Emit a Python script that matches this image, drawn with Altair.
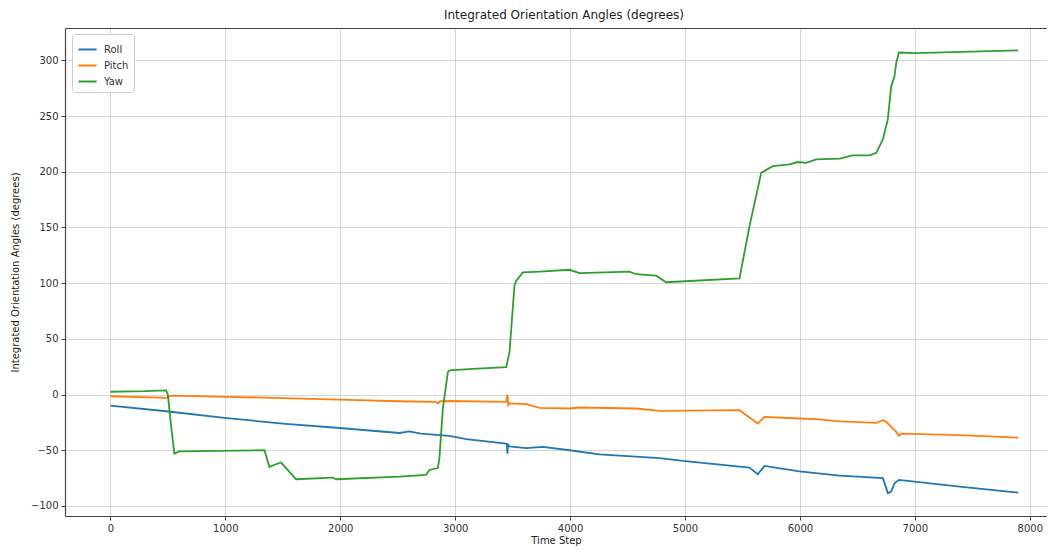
import altair as alt
import pandas as pd

roll_x = [0, 485, 992, 1500, 1993, 2515, 2602, 2700, 2950, 3095, 3444, 3450, 3455, 3460, 3473,
          3618, 3763, 3995, 4256, 4778, 4980, 5561, 5633, 5692, 5996, 6345, 6722, 6751, 6765,
          6794, 6823, 6861, 7389, 7900]
roll_y = [-10, -15, -21, -26, -30, -34.5, -33, -35, -37, -40, -44, -44.5, -53, -45, -46.5,
          -48, -47, -50, -53.7, -57, -59.6, -65.6, -71.5, -64, -69, -72.7, -75, -84, -88.5,
          -87, -79.6, -76.6, -82.6, -88]

pitch_x = [0, 485, 530, 1007, 1993, 2515, 2830, 2850, 2870, 2950, 3444, 3455, 3462, 3473,
           3618, 3734, 3995, 4082, 4575, 4778, 5474, 5633, 5692, 5996, 6141, 6345, 6664,
           6722, 6751, 6794, 6838, 6861, 6881, 7389, 7900]
pitch_y = [-1.5, -3, -1, -2, -4.5, -6, -6.5, -8, -6, -5.8, -6.5, 0, -9.5, -8,
           -8.6, -12, -12.5, -11.6, -12.5, -14.6, -14, -26, -20, -21.5, -22, -24, -25.4,
           -23, -24.5, -29, -33.5, -37, -35, -36.4, -38.7]

yaw_x = [0, 300, 485, 500, 530, 557, 600, 1340, 1355, 1384, 1427, 1485, 1529, 1616, 1934,
         1964, 2515, 2747, 2776, 2849, 2863, 2893, 2936, 2950, 3153, 3444, 3473, 3516, 3531,
         3589, 3734, 3995, 4082, 4517, 4575, 4749, 4836, 5474, 5561, 5663, 5764, 5910, 5982,
         6054, 6141, 6345, 6460, 6606, 6664, 6722, 6765, 6794, 6823, 6838, 6861, 7011, 7900]
yaw_y = [2.5, 3, 3.8, 0, -30, -53, -51, -50, -55, -65, -63, -61, -66, -76, -74.5,
         -76, -73.6, -72, -67.7, -66, -57, -12.5, 20, 21.7, 23, 24.7, 38, 98, 102,
         109.7, 110.3, 112, 109, 110.3, 108, 106.7, 100.8, 104.3, 151, 199, 205, 206.6, 208.7,
         208, 211, 211.7, 214.7, 214.7, 217, 229, 247, 276.6, 285.6, 297.6, 307, 306.5, 308.9]

series_names = ["Roll", "Pitch", "Yaw"]
series_colors = ["#1f77b4", "#ff7f0e", "#2ca02c"]

rows = []
for name, xs, ys in [("Roll", roll_x, roll_y), ("Pitch", pitch_x, pitch_y), ("Yaw", yaw_x, yaw_y)]:
    for i, (xv, yv) in enumerate(zip(xs, ys)):
        rows.append({"step": xv, "angle": yv, "series": name, "order": i})
df = pd.DataFrame(rows)

xscale = alt.Scale(domain=[-395, 8150], nice=False, zero=False)
yscale = alt.Scale(domain=[-109, 329], nice=False, zero=False)

lines = alt.Chart(df).mark_line(strokeWidth=1.8, clip=True).encode(
    x=alt.X("step:Q", scale=xscale,
            axis=alt.Axis(title="Time Step", values=list(range(0, 8001, 1000)),
                          format="d", titlePadding=2)),
    y=alt.Y("angle:Q", scale=yscale,
            axis=alt.Axis(title="Integrated Orientation Angles (degrees)",
                          values=list(range(-100, 301, 50)), titlePadding=10)),
    color=alt.Color("series:N",
                    scale=alt.Scale(domain=series_names, range=series_colors),
                    sort=series_names,
                    legend=alt.Legend(title=None, orient="none", legendX=7, legendY=6,
                                      symbolType="stroke", symbolSize=330,
                                      symbolStrokeWidth=2, labelFontSize=10,
                                      fillColor="white", strokeColor="#cccccc",
                                      cornerRadius=3, padding=5, rowPadding=0,
                                      labelOffset=6, labelColor="#333333")),
    order="order:Q",
)

top = alt.Chart(df).mark_line(opacity=0).encode(
    x=alt.X("step:Q", scale=xscale,
            axis=alt.Axis(orient="top", title=None, labels=False, ticks=False,
                          grid=False, domain=True)),
    y=alt.Y("angle:Q", scale=yscale),
)

chart = alt.layer(lines, top).resolve_axis(x="independent").properties(
    width=982,
    height=488,
    title=alt.TitleParams("Integrated Orientation Angles (degrees)", fontSize=12,
                          fontWeight="normal", font="DejaVu Sans", color="#222222",
                          dx=8, offset=6),
    autosize=alt.AutoSizeParams(type="none"),
    padding={"left": 57, "top": 20, "right": 0, "bottom": 32},
).configure_view(stroke=None).configure_axis(
    labelFont="DejaVu Sans", titleFont="DejaVu Sans", labelFontSize=10,
    titleFontSize=10, titleFontWeight="normal", labelColor="#333333",
    titleColor="#222222", domainColor="#444444", domainWidth=1.2,
    tickColor="#444444", tickSize=4, labelPadding=3,
    gridColor="#d6d6d6", gridWidth=1,
).configure_legend(labelFont="DejaVu Sans")

chart.save("out.html", embed_options={"renderer": "svg", "actions": False})
